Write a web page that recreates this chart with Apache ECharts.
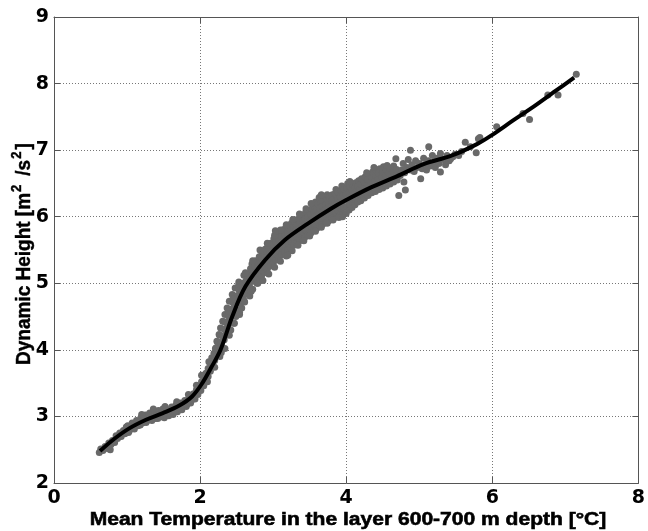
<!DOCTYPE html>
<html>
<head>
<meta charset="utf-8">
<script src="https://cdn.jsdelivr.net/npm/echarts@6/dist/echarts.min.js"></script>
<style>
html,body{margin:0;padding:0;background:#fff;}
#chart{width:648px;height:531px;}
</style>
</head>
<body>
<div id="chart"></div>
<script>
// x ticks / y ticks
var xTicks = [0, 2, 4, 6, 8];
var yTicks = [2, 3, 4, 5, 6, 7, 8, 9];

// fitted curve
var curveX = [0.63,0.81,1.03,1.26,1.49,1.71,1.89,2.03,2.15,2.28,2.44,2.62,2.89,3.16,3.48,3.79,4.00,4.34,4.70,5.06,5.45,5.79,6.00,6.29,6.60,6.88,7.12];
var curveY = [2.48,2.65,2.82,2.95,3.05,3.16,3.30,3.50,3.73,4.00,4.50,4.95,5.35,5.65,5.90,6.12,6.25,6.44,6.61,6.79,6.92,7.09,7.23,7.45,7.68,7.90,8.09];

// observations, low part
var obsLow = [
[0.62,2.46],[0.64,2.51],[0.67,2.49],[0.70,2.55],[0.73,2.52],[0.75,2.60],[0.77,2.50],[0.78,2.58],[0.80,2.64],[0.83,2.61],
[0.85,2.71],[0.87,2.67],[0.90,2.75],[0.92,2.70],[0.95,2.79],[0.97,2.74],[0.99,2.84],
[1.01,2.86],[1.03,2.78],[1.05,2.83],[1.07,2.90],[1.09,2.82],[1.11,2.88],[1.13,2.94],[1.15,2.86],[1.17,2.92],[1.19,2.98],
[1.21,2.90],[1.23,2.96],[1.25,3.02],[1.27,2.93],[1.29,2.99],[1.31,3.05],[1.33,2.96],[1.35,3.02],[1.37,3.08],[1.39,2.97],
[1.41,3.04],[1.43,3.09],[1.45,2.99],[1.47,3.06],[1.49,3.11],[1.51,2.98],[1.53,3.04],[1.55,3.10],[1.57,3.01],[1.59,3.07],
[1.61,3.14],[1.63,3.03],[1.65,3.10],[1.67,3.17],[1.69,3.07],[1.71,3.13],[1.73,3.20],[1.75,3.10],[1.77,3.17],[1.79,3.24],
[1.81,3.15],[1.83,3.22],[1.85,3.28],[1.87,3.20],[1.89,3.27],[1.91,3.34],[1.93,3.26],
[1.95,3.40],[1.97,3.33],[1.99,3.45],[2.01,3.39],[2.02,3.52],[2.05,3.46],[2.05,3.58],[2.08,3.53],[2.08,3.65],[2.11,3.60],
[2.11,3.72],[2.14,3.68],[2.14,3.80],[2.17,3.76],[2.16,3.88],[2.20,3.84],[2.19,3.95],[2.23,3.92],[2.22,4.03],[2.26,3.99],
[2.29,3.96],[2.25,4.10],[2.29,4.07]
];

// observations, steep part
var obsSteep = [
[2.23,4.13],[2.28,4.11],[2.33,4.15],[2.26,4.23],[2.31,4.21],[2.36,4.25],
[2.28,4.33],[2.33,4.31],[2.38,4.35],[2.42,4.30],[2.31,4.43],[2.36,4.41],[2.41,4.45],[2.46,4.40],
[2.34,4.53],[2.39,4.51],[2.44,4.55],[2.49,4.50],[2.54,4.53],[2.37,4.63],[2.42,4.61],[2.47,4.65],[2.52,4.60],[2.57,4.63],
[2.40,4.73],[2.45,4.71],[2.50,4.75],[2.55,4.70],[2.60,4.74],[2.44,4.83],[2.49,4.81],[2.54,4.85],[2.59,4.80],[2.64,4.84],[2.68,4.81],
[2.48,4.93],[2.53,4.91],[2.58,4.95],[2.63,4.90],[2.68,4.94],[2.72,4.91],[2.53,5.02],[2.58,5.00],[2.63,5.04],[2.68,5.01],[2.73,5.03],[2.78,5.00],
[2.60,5.12],[2.64,5.14],[2.67,5.13],[2.69,5.22],[2.72,5.12],[2.73,5.21],[2.71,5.29],
[2.76,5.08],[2.77,5.17],[2.75,5.26],[2.76,5.34],[2.80,5.06],[2.81,5.14],[2.79,5.23],[2.80,5.32],[2.81,5.40],
[2.84,5.10],[2.85,5.19],[2.83,5.28],[2.84,5.37],[2.85,5.45],[2.88,5.16],[2.89,5.25],[2.87,5.34],[2.88,5.43],[2.89,5.51],
[2.92,5.21],[2.93,5.30],[2.91,5.39],[2.92,5.48],[2.93,5.57],[2.96,5.26],[2.97,5.35],[2.95,5.44],[2.96,5.53],[2.97,5.60],
[3.00,5.30],[3.01,5.39],[2.99,5.48],[3.00,5.58],[3.01,5.67],[3.04,5.35],[3.05,5.44],[3.03,5.53],[3.04,5.62],[3.05,5.73],
[3.08,5.39],[3.09,5.48],[3.07,5.57],[3.08,5.66],[3.09,5.74],[3.12,5.43],[3.13,5.52],[3.11,5.61],[3.12,5.70],[3.13,5.80],
[3.16,5.47],[3.17,5.56],[3.15,5.65],[3.16,5.74],[3.17,5.83],[3.20,5.50],[3.21,5.59],[3.19,5.68],[3.20,5.77],[3.21,5.84],
[3.24,5.53],[3.25,5.62],[3.23,5.71],[3.24,5.80],[3.25,5.90],[3.28,5.57],[3.29,5.66],[3.27,5.75],[3.28,5.84],[3.29,5.92],
[3.32,5.61],[3.33,5.70],[3.31,5.79],[3.32,5.88],[3.33,5.96],[3.36,5.64],[3.37,5.73],[3.35,5.82],[3.36,5.91],[3.37,6.02],
[3.40,5.67],[3.41,5.76],[3.39,5.85],[3.40,5.94],[3.41,6.03],[3.44,5.70],[3.45,5.79],[3.43,5.88],[3.44,5.97],[3.45,6.08],
[3.48,5.73],[3.49,5.82],[3.47,5.91],[3.48,6.00],[3.49,6.09]
];

// observations, upper part
var obsHigh = [
[3.52,5.76],[3.53,5.85],[3.51,5.94],[3.52,6.03],[3.53,6.12],[3.56,5.80],[3.57,5.89],[3.55,5.98],[3.56,6.07],[3.57,6.16],[3.58,6.22],
[3.60,5.83],[3.61,5.92],[3.59,6.01],[3.60,6.10],[3.61,6.19],[3.64,5.86],[3.65,5.95],[3.63,6.04],[3.64,6.13],[3.65,6.22],[3.63,6.29],
[3.68,5.89],[3.69,5.98],[3.67,6.07],[3.68,6.16],[3.69,6.25],[3.72,5.91],[3.73,6.00],[3.71,6.09],[3.72,6.18],[3.73,6.27],[3.74,6.33],
[3.76,5.94],[3.77,6.03],[3.75,6.12],[3.76,6.21],[3.77,6.30],[3.80,5.97],[3.81,6.06],[3.79,6.15],[3.80,6.24],[3.81,6.33],
[3.84,5.99],[3.85,6.08],[3.83,6.17],[3.84,6.26],[3.85,6.35],[3.86,6.41],[3.88,6.01],[3.89,6.10],[3.87,6.19],[3.88,6.28],[3.89,6.37],
[3.92,6.03],[3.93,6.12],[3.91,6.21],[3.92,6.30],[3.93,6.39],[3.94,6.46],[3.96,6.04],[3.97,6.14],[3.95,6.23],[3.96,6.32],[3.97,6.41],
[4.00,6.05],[4.01,6.15],[3.99,6.25],[4.00,6.34],[4.01,6.43],[4.02,6.50],[4.04,6.10],[4.05,6.19],[4.03,6.28],[4.04,6.37],[4.05,6.46],
[4.08,6.14],[4.09,6.22],[4.07,6.31],[4.08,6.40],[4.09,6.49],[4.12,6.18],[4.13,6.26],[4.11,6.34],[4.12,6.43],[4.13,6.51],
[4.16,6.22],[4.17,6.30],[4.15,6.38],[4.16,6.46],[4.17,6.54],[4.20,6.24],[4.21,6.33],[4.19,6.41],[4.20,6.49],[4.21,6.57],
[4.25,6.28],[4.26,6.36],[4.24,6.44],[4.25,6.52],[4.26,6.60],[4.30,6.32],[4.31,6.40],[4.29,6.48],[4.30,6.56],[4.31,6.63],
[4.35,6.36],[4.36,6.44],[4.34,6.52],[4.35,6.60],[4.36,6.67],[4.40,6.38],[4.41,6.46],[4.39,6.54],[4.40,6.62],[4.41,6.70],
[4.45,6.41],[4.46,6.49],[4.44,6.57],[4.45,6.65],[4.46,6.72],[4.50,6.43],[4.51,6.51],[4.49,6.59],[4.50,6.67],[4.51,6.75],
[4.55,6.46],[4.56,6.54],[4.54,6.62],[4.55,6.70],[4.56,6.77],[4.60,6.49],[4.61,6.57],[4.59,6.65],[4.60,6.73],
[4.65,6.52],[4.66,6.60],[4.64,6.68],[4.65,6.76],[4.70,6.55],[4.71,6.63],[4.69,6.71],[4.68,6.87],
[4.72,6.32],[4.79,6.52],[4.81,6.40],[4.74,6.62],[4.76,6.70],[4.78,6.80],[4.80,6.66],[4.83,6.74],[4.85,6.86],[4.88,7.00],
[4.88,6.70],[4.90,6.78],[4.93,6.68],[4.95,6.84],[4.97,6.74],[5.00,6.80],[5.02,6.57],[5.04,6.72],[5.06,6.88],[5.08,6.78],
[5.10,6.70],[5.12,6.84],[5.13,7.05],[5.15,6.76],[5.18,6.92],[5.20,6.82],[5.22,6.74],[5.24,6.88],[5.27,6.80],[5.29,6.67],
[5.29,6.95],[5.33,6.86],[5.36,6.78],[5.38,6.92],[5.41,6.84],[5.43,6.87],[5.46,6.90],[5.49,6.94],[5.54,6.92],[5.58,6.98],
[5.63,7.12],[5.70,7.05],[5.78,6.96],[5.81,7.17],[5.83,7.19],[6.06,7.35],[6.42,7.55],[6.51,7.46],[6.76,7.83],[6.90,7.83],[7.15,8.14]
];

// observations along the edges of the cloud
var obsEdge = [
[1.02,2.76],[1.10,2.81],[1.18,2.87],[1.26,2.91],[1.34,2.94],[1.42,2.97],[1.50,3.00],[1.58,3.04],[1.66,3.08],[1.74,3.12],[1.82,3.18],[1.88,3.24],
[1.20,3.03],[1.36,3.11],[1.52,3.15],[1.68,3.22],[1.84,3.33],[1.95,3.47],
[2.10,3.52],[2.20,3.74],[2.27,3.90],[2.34,4.02],[2.40,4.22],[2.47,4.40],[2.54,4.56],[2.61,4.72],[2.70,4.88],[2.79,5.00],
[2.02,3.62],[2.12,3.82],[2.21,4.02],[2.27,4.22],[2.34,4.42],[2.39,4.58],[2.45,4.76],[2.53,4.98],[2.62,5.16],[2.72,5.34],[2.82,5.50],
[2.92,5.60],[3.02,5.72],[3.10,5.80],[3.18,5.88],[3.27,5.96],[3.36,6.04],[3.45,6.12],
[2.86,5.04],[2.94,5.14],[3.02,5.24],[3.10,5.33],[3.18,5.41],[3.26,5.49],[3.34,5.57],[3.42,5.64],[3.50,5.71],[3.58,5.78],[3.66,5.84],[3.74,5.90],[3.82,5.95],[3.90,5.99],
[3.03,5.79],[3.66,6.33],[3.52,6.20],[4.05,6.53],[4.28,6.66],[3.20,5.42],[3.95,6.00],[4.38,6.74]
];

var scatterPts = obsLow.concat(obsSteep, obsHigh, obsEdge);
var curvePts = curveX.map(function (x, i) { return [x, curveY[i]]; });

var chart = echarts.init(document.getElementById('chart'), null, {renderer: 'canvas'});
var frame = '#555';
var labelFont = {color: '#000', fontFamily: 'DejaVu Sans', fontWeight: 'bold', fontSize: 19};
var grid = {left: 54, right: 5, top: 17, bottom: 48};
var gridLine = {show: true, lineStyle: {color: '#777', type: [1, 2], width: 1}};

var yTitleFont = 'bold 19px "Liberation Sans"';
var supFont = 'bold 13px "Liberation Sans"';
var measureCtx = document.createElement('canvas').getContext('2d');
function textW(text, font) { measureCtx.font = font; return measureCtx.measureText(text).width; }
function yPiece(text, yStart, xOff, font) {
  return {
    type: 'text', x: 24 + xOff, y: yStart, rotation: Math.PI / 2, scaleX: 1.0, scaleY: 1.08,
    style: {text: text, align: 'left', verticalAlign: 'middle', font: font, fill: '#000',
      stroke: '#000', lineWidth: 0.4}
  };
}
// lay the y title pieces one after another (upwards)
var yStart0 = 365;
var yAfterMain = yStart0 - textW('Dynamic Height [m', yTitleFont);
var ySup1 = yAfterMain - 1;
var ySlash = ySup1 - textW('2', supFont) - 9;
var ySup2 = ySlash - textW('/s', yTitleFont) - 1;
var yBracket = ySup2 - textW('2', supFont) - 2;

chart.setOption({
  animation: false,
  backgroundColor: '#fff',
  grid: grid,
  xAxis: [{
    type: 'value', min: xTicks[0], max: xTicks[xTicks.length - 1], interval: 2,
    position: 'bottom',
    axisLine: {show: true, onZero: false, lineStyle: {color: frame, width: 1}},
    axisTick: {show: true, inside: true, length: 6, lineStyle: {color: frame}},
    axisLabel: Object.assign({margin: 6, showMinLabel: true, showMaxLabel: true}, labelFont),
    splitLine: gridLine
  }, {
    type: 'value', min: xTicks[0], max: xTicks[xTicks.length - 1], interval: 2,
    position: 'top',
    axisLine: {show: true, onZero: false, lineStyle: {color: frame, width: 1}},
    axisTick: {show: true, inside: true, length: 6, lineStyle: {color: frame}},
    axisLabel: {show: false}, splitLine: {show: false}
  }],
  yAxis: [{
    type: 'value', min: yTicks[0], max: yTicks[yTicks.length - 1], interval: 1,
    position: 'left',
    axisLine: {show: true, onZero: false, lineStyle: {color: frame, width: 1}},
    axisTick: {show: true, inside: true, length: 6, lineStyle: {color: frame}},
    axisLabel: Object.assign({margin: 5, showMinLabel: true, showMaxLabel: true}, labelFont),
    splitLine: gridLine
  }, {
    type: 'value', min: yTicks[0], max: yTicks[yTicks.length - 1], interval: 1,
    position: 'right',
    axisLine: {show: true, onZero: false, lineStyle: {color: frame, width: 1}},
    axisTick: {show: true, inside: true, length: 6, lineStyle: {color: frame}},
    axisLabel: {show: false}, splitLine: {show: false}
  }],
  series: [{
    type: 'scatter', xAxisIndex: 0, yAxisIndex: 0,
    data: scatterPts, symbol: 'circle', symbolSize: 7,
    itemStyle: {color: '#696969', opacity: 1}, z: 2, silent: true
  }, {
    type: 'line', xAxisIndex: 0, yAxisIndex: 0,
    data: curvePts, smooth: 0.35, showSymbol: false, symbol: 'none',
    lineStyle: {color: '#000', width: 4}, z: 3, silent: true
  }],
  graphic: [{
    type: 'text', x: 348, y: 520, scaleX: 1.315, scaleY: 1.15,
    style: {text: 'Mean Temperature in the layer 600-700 m depth [°C]', align: 'center', verticalAlign: 'middle',
      font: 'bold 16px "Liberation Sans"', fill: '#000', stroke: '#000', lineWidth: 0.5}
  },
    yPiece('Dynamic Height [m', yStart0, 0, yTitleFont),
    yPiece('2', ySup1, -7, supFont),
    yPiece('/s', ySlash, 0, yTitleFont),
    yPiece('2', ySup2, -7, supFont),
    yPiece(']', yBracket, 0, yTitleFont)
  ]
});
</script>
</body>
</html>
